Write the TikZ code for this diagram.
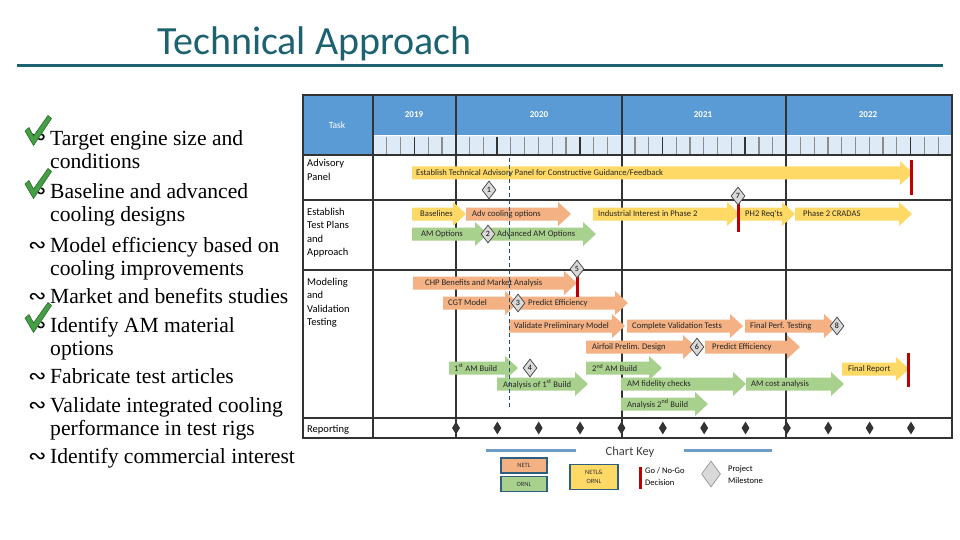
\documentclass[tikz,border=0pt]{standalone}
\usepackage{fontspec}
\setmainfont{Liberation Serif}
\newfontfamily\calfont{Carlito}
\newfontfamily\symfont{DejaVu Sans}
\usetikzlibrary{shapes.geometric}
\definecolor{hdrblue}{HTML}{5B9BD5}
\definecolor{stripblue}{HTML}{DEEBF7}
\definecolor{ylw}{HTML}{FFD966}
\definecolor{org}{HTML}{F4B183}
\definecolor{grn}{HTML}{A9D18E}
\definecolor{gored}{HTML}{C00000}
\definecolor{gridc}{HTML}{333333}
\definecolor{titlec}{HTML}{1D6271}
\definecolor{todayc}{HTML}{1F4E79}
\definecolor{keyline}{HTML}{6F9BC4}
\definecolor{keybox}{HTML}{2F5F7F}
\definecolor{chkgreen}{HTML}{45A045}
\definecolor{chkdark}{HTML}{2C6B2C}
\tikzset{
  gridline/.style={draw=gridc, line width=2pt},
  bartext/.style={font=\calfont\fontsize{8.6}{9}\selectfont, inner sep=0pt, text=black!85, anchor=west},
  mile/.style={diamond, draw=black!75, fill=black!15, line width=0.7pt, minimum width=14pt, minimum height=18pt, inner sep=0pt, font=\calfont\fontsize{8}{8}\selectfont},
  repmark/.style={diamond, fill=black!80, minimum width=8pt, minimum height=13pt, inner sep=0pt},
  gonogo/.style={draw=gored, line width=3pt},
  tasktext/.style={font=\calfont\fontsize{10.5}{13.5}\selectfont, align=left, anchor=base west, inner sep=0pt},
  yeartext/.style={font=\calfont\bfseries\fontsize{9}{10}\selectfont, text=white, inner sep=0pt},
  listtext/.style={font=\fontsize{21.6}{23.5}\selectfont, align=left, anchor=base west, inner sep=0pt},
  bullet/.style={font=\symfont\fontsize{22}{22}\selectfont, anchor=base west, inner sep=0pt},
  keytext/.style={font=\calfont\fontsize{8.5}{12}\selectfont, align=left, anchor=west, inner sep=0pt},
  keycell/.style={draw=keybox, line width=1.5pt, minimum width=46pt, inner sep=0pt, font=\calfont\fontsize{6.5}{9}\selectfont, align=center, text=black!80}
}
% arrow: name, colour, x1, x2, y, text x, text
\newcommand{\barrow}[7]{%
  \fill[#2] (#3,#5-6.5) -- (#4-13,#5-6.5) -- (#4-13,#5-12) -- (#4,#5) -- (#4-13,#5+12) -- (#4-13,#5+6.5) -- (#3,#5+6.5) -- cycle;
  \node[bartext] (#1) at (#6,#5) {#7};
}
\newcommand{\chkmark}[1]{%
  \filldraw[fill=chkgreen, draw=chkdark, line width=0.6pt, shift={(0,#1)}] (25,131) -- (29,127.5) -- (33.5,136) -- (48,115.5) -- (51.5,118.5) -- (33.5,145.5) -- cycle;
}
\begin{document}
\begin{tikzpicture}[x=1pt,y=-1pt]
\useasboundingbox (0,0) rectangle (960,540);
\fill[white] (0,0) rectangle (960,540);

% title
\node[font=\calfont\fontsize{40}{44}\selectfont, text=titlec, anchor=base west, inner sep=0pt] (title) at (157,55) {Technical Approach};
\draw[titlec, line width=3pt] (17,66) -- (943,66);

% left list (anchor is the baseline of the last line)
\node[bullet] (b1) at (28,145) {∾};
\node[listtext] (l1) at (50,168.5) {Target engine size and\\conditions};
\node[bullet] (b2) at (28,198) {∾};
\node[listtext] (l2) at (50,221.5) {Baseline and advanced\\cooling designs};
\node[bullet] (b3) at (28,252) {∾};
\node[listtext] (l3) at (50,275.5) {Model efficiency based on\\cooling improvements};
\node[bullet] (b4) at (28,303) {∾};
\node[listtext] (l4) at (50,303) {Market and benefits studies};
\node[bullet] (b5) at (28,332) {∾};
\node[listtext] (l5) at (50,355.5) {Identify AM material\\options};
\node[bullet] (b6) at (28,383) {∾};
\node[listtext] (l6) at (50,383) {Fabricate test articles};
\node[bullet] (b7) at (28,412) {∾};
\node[listtext] (l7) at (50,435.5) {Validate integrated cooling\\performance in test rigs};
\node[bullet] (b8) at (28,463) {∾};
\node[listtext] (l8) at (50,463) {Identify commercial interest};
\chkmark{0}
\chkmark{53}
\chkmark{187}

% table header
\fill[hdrblue] (303,95) rectangle (952,135);
\fill[hdrblue] (303,135) rectangle (373,155);
\fill[stripblue] (373,136) rectangle (952,155);
\draw[white, line width=1.5pt] (373,135.5) -- (952,135.5);
\foreach \k in {1,...,41}{
  \pgfmathsetmacro{\xx}{373+\k*13.786}
  \draw[black!45, line width=1.2pt] (\xx,137) -- (\xx,155);
}
\foreach \k in {3,9,15,21,27,39}{
  \pgfmathsetmacro{\xx}{373+\k*13.786}
  \draw[gridc, line width=1.6pt] (\xx,137) -- (\xx,155);
}
\node[yeartext, font=\calfont\fontsize{9.5}{10}\selectfont] (task) at (337,125) {Task};
\node[yeartext] (y19) at (414,115) {2019};
\node[yeartext] (y20) at (539,115) {2020};
\node[yeartext] (y21) at (703,115) {2021};
\node[yeartext] (y22) at (868,115) {2022};

% grid
\foreach \yy in {155,200,270,418}{
  \draw[gridline] (303,\yy) -- (952,\yy);
}
\foreach \xx in {373,456,622,786}{
  \draw[gridline] (\xx,95) -- (\xx,438);
}
\draw[gridline] (303,95) rectangle (952,438);

% task labels (anchor is the baseline of the last line)
\node[tasktext] (t1) at (307,180.5) {Advisory\\Panel};
\node[tasktext] (t2) at (307,255.5) {Establish\\Test Plans\\and\\Approach};
\node[tasktext] (t3) at (307,325.5) {Modeling\\and\\Validation\\Testing};
\node[tasktext] (t4) at (307,432) {Reporting};

% advisory row
\barrow{a1}{ylw}{412}{913}{173}{416}{Establish Technical Advisory Panel for Constructive Guidance/Feedback}
% establish row
\barrow{e1}{ylw}{412}{466}{214}{420}{Baselines}
\barrow{e2}{org}{466}{571}{214}{472}{Adv cooling options}
\barrow{e3}{ylw}{593}{740}{214}{598}{Industrial Interest in Phase 2}
\barrow{e4}{ylw}{740}{795}{214}{745}{PH2 Req'ts}
\barrow{e5}{ylw}{795}{912}{214}{803}{Phase 2 CRADAS}
\barrow{e6}{grn}{412}{488}{234}{421}{AM Options}
\barrow{e7}{grn}{490}{596}{234}{497}{Advanced AM Options}
% modeling row
\barrow{c1}{org}{413}{577}{283}{425}{CHP Benefits and Market Analysis}
\barrow{c2}{org}{443}{518}{303}{448}{CGT Model}
\barrow{c3}{org}{520}{628}{303}{528}{Predict Efficiency}
\barrow{c4}{org}{509}{625}{326}{514}{Validate Preliminary Model}
\barrow{c5}{org}{627}{743}{326}{632}{Complete Validation Tests}
\barrow{c6}{org}{745}{837}{326}{750}{Final Perf. Testing}
\barrow{c7}{org}{586}{696}{347}{592}{Airfoil Prelim. Design}
\barrow{c8}{org}{705}{800}{347}{712}{Predict Efficiency}
\barrow{d1}{grn}{449}{518}{368}{454}{1\textsuperscript{st} AM Build}
\barrow{d3}{grn}{586}{662}{368}{592}{2\textsuperscript{nd} AM Build}
\barrow{d2}{grn}{497}{588}{384}{503}{Analysis of 1\textsuperscript{st} Build}
\barrow{d4}{grn}{621}{746}{384}{627}{AM fidelity checks}
\barrow{d5}{grn}{746}{844}{384}{751}{AM cost analysis}
\barrow{d6}{grn}{621}{708}{404}{627}{Analysis 2\textsuperscript{nd} Build}
\barrow{f1}{ylw}{842}{909}{369}{848}{Final Report}

% today line
\draw[todayc, line width=1pt, dash pattern=on 4pt off 3pt] (509,158) -- (509,410);

% go / no-go
\draw[gonogo] (911,160) -- (911,195);
\draw[gonogo] (738,200) -- (738,232);
\draw[gonogo] (577,274) -- (577,297);
\draw[gonogo] (908,353) -- (908,387);

% milestones
\node[mile] (m1) at (489,190) {1};
\node[mile] (m2) at (488,234) {2};
\node[mile] (m3) at (518,303) {3};
\node[mile] (m4) at (530,368) {4};
\node[mile] (m5) at (577,269) {5};
\node[mile] (m6) at (697,347) {6};
\node[mile] (m7) at (738,196) {7};
\node[mile] (m8) at (837,326) {8};

% reporting marks
\foreach \k [count=\i] in {0,...,11}{
  \pgfmathsetmacro{\xx}{456+\k*41.36}
  \node[repmark] (r\i) at (\xx,428) {};
}

% chart key
\draw[keyline, line width=3pt] (486,450) -- (576,450);
\draw[keyline, line width=3pt] (684,450) -- (772,450);
\node[font=\calfont\fontsize{12.5}{14}\selectfont, text=black!75, inner sep=0pt] (ck) at (630,452) {Chart Key};
\node[keycell, fill=org, minimum height=15pt] (k1) at (524,465.5) {NETL};
\node[keycell, fill=grn, minimum height=15pt] (k2) at (524,484) {ORNL};
\node[keycell, fill=ylw, minimum height=25pt, minimum width=48pt] (k3) at (594,477) {NETL\&\\ORNL};
\draw[gonogo] (640,467) -- (640,489);
\node[keytext] (k4) at (645,477) {Go / No-Go\\Decision};
\node[diamond, draw=black!45, fill=black!15, line width=0.6pt, minimum width=19pt, minimum height=26pt, inner sep=0pt] (k5) at (711,474) {};
\node[keytext] (k6) at (728,475) {Project\\Milestone};
\end{tikzpicture}
\end{document}
